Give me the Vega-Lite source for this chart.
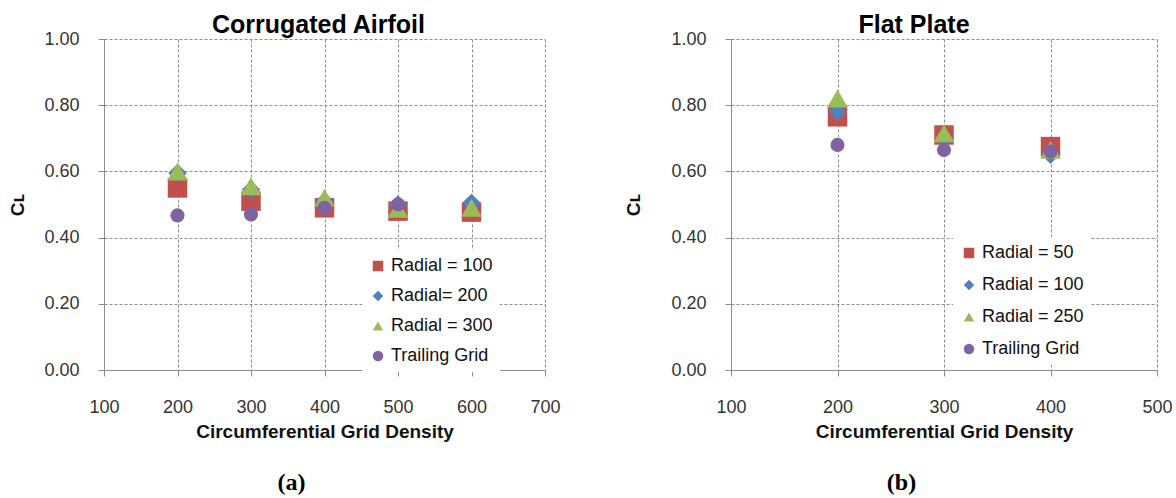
{
  "$schema": "https://vega.github.io/schema/vega-lite/v6.json",
  "background": "white",
  "padding": {"left": 8, "top": 13, "right": 3, "bottom": 2},
  "datasets": {
    "airfoil": [
      {"series": "Radial = 100", "density": 200, "cl": 0.55},
      {"series": "Radial = 100", "density": 300, "cl": 0.51},
      {"series": "Radial = 100", "density": 400, "cl": 0.49},
      {"series": "Radial = 100", "density": 500, "cl": 0.48},
      {"series": "Radial = 100", "density": 600, "cl": 0.477},
      {"series": "Radial= 200", "density": 200, "cl": 0.595},
      {"series": "Radial= 200", "density": 300, "cl": 0.545},
      {"series": "Radial= 200", "density": 400, "cl": 0.51},
      {"series": "Radial= 200", "density": 500, "cl": 0.5},
      {"series": "Radial= 200", "density": 600, "cl": 0.505},
      {"series": "Radial = 300", "density": 200, "cl": 0.6},
      {"series": "Radial = 300", "density": 300, "cl": 0.555},
      {"series": "Radial = 300", "density": 400, "cl": 0.52},
      {"series": "Radial = 300", "density": 500, "cl": 0.487},
      {"series": "Radial = 300", "density": 600, "cl": 0.49},
      {"series": "Trailing Grid", "density": 200, "cl": 0.467},
      {"series": "Trailing Grid", "density": 300, "cl": 0.47},
      {"series": "Trailing Grid", "density": 400, "cl": 0.49},
      {"series": "Trailing Grid", "density": 500, "cl": 0.5}
    ],
    "plate": [
      {"series": "Radial = 50", "density": 200, "cl": 0.765},
      {"series": "Radial = 50", "density": 300, "cl": 0.71},
      {"series": "Radial = 50", "density": 400, "cl": 0.675},
      {"series": "Radial = 100", "density": 200, "cl": 0.78},
      {"series": "Radial = 100", "density": 300, "cl": 0.7},
      {"series": "Radial = 100", "density": 400, "cl": 0.65},
      {"series": "Radial = 250", "density": 200, "cl": 0.82},
      {"series": "Radial = 250", "density": 300, "cl": 0.715},
      {"series": "Radial = 250", "density": 400, "cl": 0.665},
      {"series": "Trailing Grid", "density": 200, "cl": 0.68},
      {"series": "Trailing Grid", "density": 300, "cl": 0.665},
      {"series": "Trailing Grid", "density": 400, "cl": 0.66}
    ]
  },
  "config": {
    "font": "Liberation Sans",
    "view": {"stroke": null},
    "axis": {
      "grid": true,
      "gridDash": [3, 2],
      "gridColor": "#8c8c8c",
      "gridWidth": 1,
      "domainColor": "#8c8c8c",
      "tickColor": "#8c8c8c",
      "tickSize": 6,
      "labelFont": "Liberation Sans",
      "labelFontSize": 18,
      "labelColor": "#333333",
      "labelFlush": false,
      "titleFont": "Liberation Sans",
      "titleFontSize": 19,
      "titleFontWeight": "bold",
      "titleColor": "#111111"
    },
    "legend": {
      "orient": "none",
      "title": null,
      "fillColor": "white",
      "padding": 7,
      "labelFont": "Liberation Sans",
      "labelFontSize": 18,
      "labelColor": "#111111",
      "symbolSize": 110,
      "symbolStrokeWidth": 0,
      "labelOffset": 4
    },
    "title": {"font": "Liberation Sans", "fontSize": 25, "fontWeight": "bold", "color": "#000000"},
    "concat": {"spacing": 63}
  },
  "hconcat": [
    {
      "title": {"text": "(a)", "orient": "bottom", "font": "Liberation Serif", "fontSize": 24, "fontWeight": "bold", "offset": 30, "anchor": "middle", "dx": 7},
      "vconcat": [
        {
          "title": {"text": "Corrugated Airfoil", "offset": -8, "dx": -6},
          "width": 441,
          "height": 331,
          "data": {"name": "airfoil"},
          "encoding": {
            "x": {
              "field": "density", "type": "quantitative",
              "scale": {"domain": [100, 700], "nice": false, "zero": false},
              "axis": {"values": [100, 200, 300, 400, 500, 600, 700], "format": "d", "labelPadding": 22, "title": "Circumferential Grid Density", "titlePadding": 6}
            },
            "y": {
              "field": "cl", "type": "quantitative",
              "scale": {"domain": [0, 1], "nice": false},
              "axis": {"values": [0, 0.2, 0.4, 0.6, 0.8, 1.0], "format": ".2f", "labelPadding": 19, "title": "Cʟ", "titlePadding": 16}
            },
            "color": {
              "field": "series", "type": "nominal",
              "scale": {"domain": ["Radial = 100", "Radial= 200", "Radial = 300", "Trailing Grid"], "range": ["#C0504D", "#4F81BD", "#9BBB59", "#8064A2"]},
              "legend": {"legendX": 258, "legendY": 211, "rowPadding": 12, "symbolSize": 110}
            },
            "shape": {
              "field": "series", "type": "nominal",
              "scale": {"domain": ["Radial = 100", "Radial= 200", "Radial = 300", "Trailing Grid"], "range": ["square", "diamond", "triangle-up", "circle"]}
            }
          },
          "layer": [
            {"transform": [{"filter": "datum.series === 'Radial = 100'"}], "mark": {"type": "point", "filled": true, "opacity": 1, "size": 380}},
            {"transform": [{"filter": "datum.series === 'Radial= 200'"}], "mark": {"type": "point", "filled": true, "opacity": 1, "size": 340}},
            {"transform": [{"filter": "datum.series === 'Radial = 300'"}], "mark": {"type": "point", "filled": true, "opacity": 1, "size": 430}},
            {"transform": [{"filter": "datum.series === 'Trailing Grid'"}], "mark": {"type": "point", "filled": true, "opacity": 1, "size": 200}}
          ]
        }
      ]
    },
    {
      "title": {"text": "(b)", "orient": "bottom", "font": "Liberation Serif", "fontSize": 24, "fontWeight": "bold", "offset": 30, "anchor": "middle", "dx": 3},
      "vconcat": [
        {
          "title": {"text": "Flat Plate", "offset": -8, "dx": -30},
          "width": 426,
          "height": 331,
          "data": {"name": "plate"},
          "encoding": {
            "x": {
              "field": "density", "type": "quantitative",
              "scale": {"domain": [100, 500], "nice": false, "zero": false},
              "axis": {"values": [100, 200, 300, 400, 500], "format": "d", "labelPadding": 22, "title": "Circumferential Grid Density", "titlePadding": 6}
            },
            "y": {
              "field": "cl", "type": "quantitative",
              "scale": {"domain": [0, 1], "nice": false},
              "axis": {"values": [0, 0.2, 0.4, 0.6, 0.8, 1.0], "format": ".2f", "labelPadding": 19, "title": "Cʟ", "titlePadding": 27}
            },
            "color": {
              "field": "series", "type": "nominal",
              "scale": {"domain": ["Radial = 50", "Radial = 100", "Radial = 250", "Trailing Grid"], "range": ["#C0504D", "#4F81BD", "#9BBB59", "#8064A2"]},
              "legend": {"legendX": 222, "legendY": 198, "rowPadding": 14, "symbolSize": 110}
            },
            "shape": {
              "field": "series", "type": "nominal",
              "scale": {"domain": ["Radial = 50", "Radial = 100", "Radial = 250", "Trailing Grid"], "range": ["square", "diamond", "triangle-up", "circle"]}
            }
          },
          "layer": [
            {"transform": [{"filter": "datum.series === 'Radial = 50'"}], "mark": {"type": "point", "filled": true, "opacity": 1, "size": 380}},
            {"transform": [{"filter": "datum.series === 'Radial = 100'"}], "mark": {"type": "point", "filled": true, "opacity": 1, "size": 340}},
            {"transform": [{"filter": "datum.series === 'Radial = 250'"}], "mark": {"type": "point", "filled": true, "opacity": 1, "size": 430}},
            {"transform": [{"filter": "datum.series === 'Trailing Grid'"}], "mark": {"type": "point", "filled": true, "opacity": 1, "size": 200}}
          ]
        }
      ]
    }
  ],
  "resolve": {"scale": {"color": "independent", "shape": "independent"}}
}
